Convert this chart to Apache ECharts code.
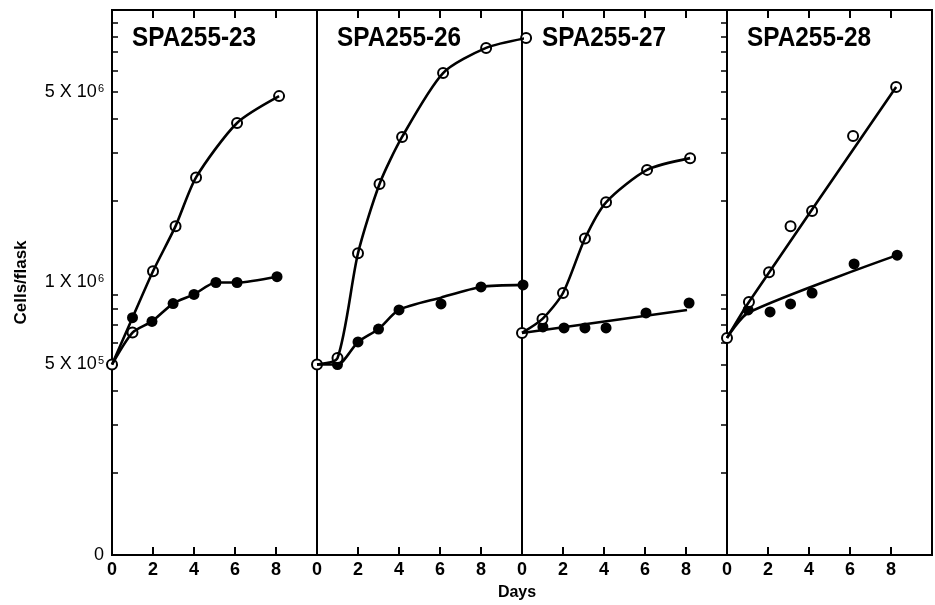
<!DOCTYPE html>
<html>
<head>
<meta charset="utf-8">
<script src="https://cdn.jsdelivr.net/npm/echarts@6/dist/echarts.min.js"></script>
<style>
  html, body { margin: 0; background: #fff; }
  #chart { width: 935px; height: 605px; }
</style>
</head>
<body>
<div id="chart"></div>
<script>
// panel titles
const panelNames = ['SPA255-23', 'SPA255-26', 'SPA255-27', 'SPA255-28'];

// y axis: log scale, labels and minor ticks
const cellLabelValues = [1e5, 5e5, 1e6, 5e6];
const cellLabelTexts = ['0', '{n|5 X 10}{s|5}', '{n|1 X 10}{s|6}', '{n|5 X 10}{s|6}'];
const cellMinorTicks = [2e5, 3e5, 4e5, 5e5, 6e5, 7e5, 8e5, 9e5,
                        2e6, 3e6, 4e6, 5e6, 6e6, 7e6, 8e6, 9e6];

// [day, cells/flask]
// open circles
const open23 = [[0, 5.0e5], [1.0, 6.55e5], [2.0, 1.10e6], [3.1, 1.61e6], [4.1, 2.43e6], [6.1, 3.85e6], [8.15, 4.83e6]];
const open26 = [[0, 5.0e5], [1.0, 5.28e5], [2.0, 1.28e6], [3.05, 2.30e6], [4.15, 3.42e6], [6.15, 5.87e6], [8.25, 7.26e6], [10.2, 7.89e6]];
const open27 = [[0, 6.53e5], [1.0, 7.35e5], [2.0, 9.15e5], [3.07, 1.45e6], [4.1, 1.97e6], [6.1, 2.59e6], [8.2, 2.86e6]];
const open28 = [[0, 6.26e5], [1.07, 8.48e5], [2.05, 1.09e6], [3.1, 1.61e6], [4.15, 1.83e6], [6.15, 3.45e6], [8.25, 5.22e6]];

// filled circles
const filled23 = [[1.0, 7.43e5], [1.95, 7.2e5], [2.98, 8.37e5], [4.0, 9.04e5], [5.07, 1.0e6], [6.1, 1.0e6], [8.05, 1.05e6]];
const filled26 = [[1.0, 5.0e5], [2.0, 6.05e5], [3.0, 6.75e5], [4.0, 7.93e5], [6.05, 8.34e5], [8.0, 9.63e5], [10.05, 9.8e5]];
const filled27 = [[1.02, 6.87e5], [2.05, 6.81e5], [3.07, 6.81e5], [4.1, 6.81e5], [6.05, 7.73e5], [8.15, 8.41e5]];
const filled28 = [[1.03, 7.93e5], [2.1, 7.8e5], [3.1, 8.34e5], [4.15, 9.15e5], [6.2, 1.17e6], [8.3, 1.26e6]];

// hand-drawn curves through (or near) the points
const openCurve23 = [[0, 5.0e5], [1.0, 7.43e5], [2.0, 1.10e6], [3.1, 1.61e6], [4.1, 2.43e6], [6.1, 3.85e6], [8.15, 4.83e6]];
const filledCurve23 = [[0, 5.0e5], [1.0, 6.55e5], [1.95, 7.2e5], [2.98, 8.37e5], [4.0, 9.04e5], [5.07, 1.0e6], [6.1, 1.0e6], [8.05, 1.05e6]];
const openCurve26 = open26;
const filledCurve26 = [[0, 5.0e5], [1.0, 5.0e5], [2.0, 6.05e5], [3.0, 6.75e5], [4.0, 7.93e5], [6.05, 8.8e5], [8.0, 9.63e5], [10.05, 9.8e5]];
const openCurve27 = open27;
const filledCurve27 = [[0, 6.53e5], [8.05, 7.93e5]];
const openCurve28 = [[0, 6.26e5], [1.07, 8.48e5], [8.25, 5.22e6]];
const filledCurve28 = [[0, 6.26e5], [1.05, 7.76e5], [8.3, 1.26e6]];

const panels = [
  { open: open23, filled: filled23, openCurve: openCurve23, filledCurve: filledCurve23 },
  { open: open26, filled: filled26, openCurve: openCurve26, filledCurve: filledCurve26 },
  { open: open27, filled: filled27, openCurve: openCurve27, filledCurve: filledCurve27 },
  { open: open28, filled: filled28, openCurve: openCurve28, filledCurve: filledCurve28 }
];

const FONT = '"Liberation Sans", Arial, sans-serif';
const plotLeft = 112, panelW = 205, plotTop = 10, plotH = 545;

const chart = echarts.init(document.getElementById('chart'));

const grid = [], xAxis = [], yAxis = [], series = [], graphic = [];

panels.forEach((p, i) => {
  grid.push({
    left: plotLeft + panelW * i, top: plotTop, width: panelW, height: plotH,
    show: true, borderColor: '#000', borderWidth: 2, backgroundColor: 'transparent'
  });
  ['bottom', 'top'].forEach(pos => {
    xAxis.push({
      type: 'value', gridIndex: i, position: pos, min: 0, max: 10, interval: 2,
      axisLine: { show: false },
      axisTick: { show: true, inside: true, length: 8, lineStyle: { color: '#000', width: 2 } },
      axisLabel: {
        show: pos === 'bottom', margin: 6, color: '#000',
        fontFamily: FONT, fontWeight: 'bold', fontSize: 18,
        formatter: v => (v < 10 ? String(v) : '')
      },
      splitLine: { show: false }
    });
  });
  yAxis.push({
    type: 'log', logBase: 10, gridIndex: i, min: 1e5, max: 1e7, position: 'left',
    axisLine: { show: false },
    axisTick: {
      show: i === 0, inside: true, length: 6, customValues: cellMinorTicks,
      lineStyle: { color: '#000', width: 1.5 }
    },
    axisLabel: {
      show: i === 0, customValues: cellLabelValues, margin: 8, color: '#000',
      fontFamily: FONT, fontSize: 18,
      rich: {
        n: { fontFamily: FONT, fontSize: 18, color: '#000' },
        s: { fontFamily: FONT, fontSize: 11, color: '#000', verticalAlign: 'top', padding: [0, 0, 0, 1] }
      },
      formatter: v => {
        const k = cellLabelValues.findIndex(c => Math.abs(c - v) / c < 1e-6);
        return k >= 0 ? cellLabelTexts[k] : '';
      }
    },
    splitLine: { show: false },
    minorTick: { show: false },
    name: i === 0 ? 'Cells/flask' : '',
    nameLocation: 'middle', nameRotate: 90, nameGap: 82,
    nameTextStyle: { color: '#000', fontFamily: FONT, fontWeight: 'bold', fontSize: 17 }
  });

  const xi = i * 2, yi = i;
  const lineBase = {
    type: 'line', xAxisIndex: xi, yAxisIndex: yi, symbol: 'none', smooth: 0.25,
    clip: false, silent: true, lineStyle: { color: '#000', width: 2.6 }
  };
  series.push(Object.assign({ data: p.openCurve }, lineBase));
  series.push(Object.assign({ data: p.filledCurve }, lineBase));
  series.push({
    type: 'scatter', xAxisIndex: xi, yAxisIndex: yi, data: p.filled, clip: false,
    symbol: 'circle', symbolSize: 11, itemStyle: { color: '#000', opacity: 1 }
  });
  series.push({
    type: 'scatter', xAxisIndex: xi, yAxisIndex: yi, data: p.open, clip: false,
    symbol: 'circle', symbolSize: 10,
    itemStyle: { color: '#fff', borderColor: '#000', borderWidth: 2, opacity: 1 }
  });

  graphic.push({
    type: 'text', x: plotLeft + panelW * i + 20, y: 38, scaleX: 0.87, z: 100,
    style: { text: panelNames[i], font: 'bold 28px ' + FONT, fill: '#000', verticalAlign: 'middle' }
  });
});

// right-hand frame ticks
yAxis.push({
  type: 'log', logBase: 10, gridIndex: 3, min: 1e5, max: 1e7, position: 'right',
  axisLine: { show: false },
  axisTick: { show: true, inside: true, length: 6, customValues: cellMinorTicks, lineStyle: { color: '#000', width: 1.5 } },
  axisLabel: { show: false },
  splitLine: { show: false }
});

graphic.push({
  type: 'text', x: 517, y: 593, z: 100,
  style: { text: 'Days', font: 'bold 16px ' + FONT, fill: '#000', align: 'center', verticalAlign: 'middle' }
});

chart.setOption({
  backgroundColor: '#fff',
  animation: false,
  grid, xAxis, yAxis, series, graphic
});
</script>
</body>
</html>
